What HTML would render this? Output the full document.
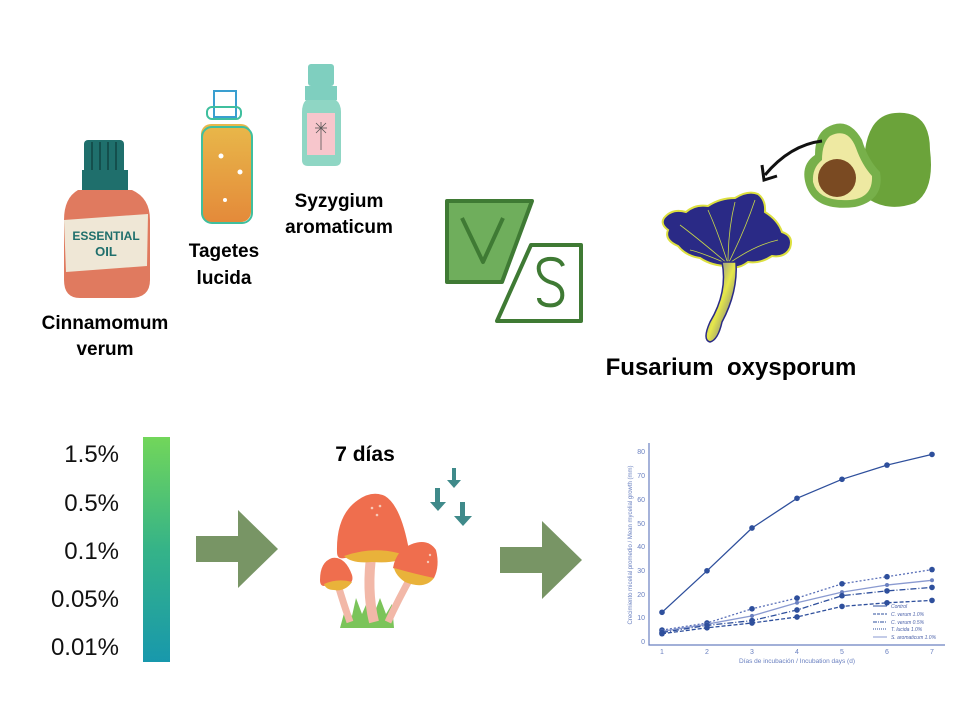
<!DOCTYPE html>
<html><head><meta charset="utf-8"><style>
html,body{margin:0;padding:0;background:#fff;}
svg{display:block}
text{font-family:"Liberation Sans",Arial,sans-serif;}
</style></head><body>
<svg width="960" height="720" viewBox="0 0 960 720" xmlns="http://www.w3.org/2000/svg">
<defs>
<linearGradient id="bar" x1="0" y1="0" x2="0" y2="1"><stop offset="0" stop-color="#72d65a"/><stop offset="0.5" stop-color="#35b388"/><stop offset="1" stop-color="#1898ac"/></linearGradient>
<linearGradient id="gold" x1="0" y1="0" x2="0" y2="1"><stop offset="0" stop-color="#e8b84a"/><stop offset="1" stop-color="#e48a3a"/></linearGradient>
<linearGradient id="stem" x1="0" y1="0" x2="1" y2="1"><stop offset="0" stop-color="#5050c8"/><stop offset="0.5" stop-color="#e6e84a"/><stop offset="1" stop-color="#3a3aa8"/></linearGradient>
<marker id="m" viewBox="-3 -3 6 6" markerWidth="5" markerHeight="5" refX="0" refY="0"><circle r="2.6" fill="#2e4f9c"/></marker>
<marker id="m2" viewBox="-3 -3 6 6" markerWidth="4" markerHeight="4" refX="0" refY="0"><circle r="2.3" fill="#6a80c0"/></marker>
</defs>

<!-- Cinnamomum bottle -->
<rect x="84" y="140" width="40" height="34" rx="4" fill="#1f6f6c"/>
<g stroke="#144f4d" stroke-width="2"><line x1="92" y1="142" x2="92" y2="170"/><line x1="100" y1="142" x2="100" y2="170"/><line x1="108" y1="142" x2="108" y2="170"/><line x1="116" y1="142" x2="116" y2="170"/></g>
<rect x="82" y="170" width="46" height="20" fill="#1f6f6c"/>
<path d="M78 190 H132 Q150 198 150 220 V280 Q150 298 130 298 H80 Q64 298 64 280 V220 Q64 198 78 190Z" fill="#e07a5f"/>
<path d="M64 220 L148 214 L147 266 L66 272Z" fill="#efe7d6"/>
<text x="106" y="240" font-size="12" fill="#1f6f6c" text-anchor="middle" font-weight="bold">ESSENTIAL</text>
<text x="106" y="256" font-size="13" fill="#1f6f6c" text-anchor="middle" font-weight="bold">OIL</text>
<text x="105" y="329" font-size="19" font-weight="bold" text-anchor="middle">Cinnamomum</text>
<text x="105" y="355" font-size="19" font-weight="bold" text-anchor="middle">verum</text>

<!-- Tagetes bottle -->
<rect x="214" y="91" width="22" height="26" fill="none" stroke="#3a9fd0" stroke-width="2"/>
<rect x="207" y="107" width="34" height="12" rx="5" fill="none" stroke="#3fbf9e" stroke-width="2"/>
<rect x="201" y="124" width="50" height="98" rx="10" fill="url(#gold)"/>
<rect x="202" y="127" width="50" height="96" rx="10" fill="none" stroke="#3fbf9e" stroke-width="2"/>
<circle cx="221" cy="156" r="2.5" fill="#fff"/><circle cx="240" cy="172" r="2.5" fill="#fff"/><circle cx="225" cy="200" r="2" fill="#fff"/>
<text x="224" y="257" font-size="19" font-weight="bold" text-anchor="middle">Tagetes</text>
<text x="224" y="284" font-size="19" font-weight="bold" text-anchor="middle">lucida</text>

<!-- Syzygium bottle -->
<rect x="308" y="64" width="26" height="22" rx="3" fill="#7fcfbf"/>
<rect x="305" y="86" width="32" height="14" fill="#7fcfbf"/>
<path d="M306 100 H336 Q341 104 341 112 V160 Q341 166 335 166 H308 Q302 166 302 160 V112 Q302 104 306 100Z" fill="#8fd6c4"/>
<rect x="307" y="113" width="28" height="42" fill="#f7c6cc"/>
<g stroke="#555" stroke-width="0.8"><line x1="321" y1="122" x2="321" y2="150"/><line x1="315" y1="128" x2="327" y2="128"/><line x1="316" y1="123" x2="326" y2="133"/><line x1="326" y1="123" x2="316" y2="133"/></g>
<text x="339" y="207" font-size="19" font-weight="bold" text-anchor="middle">Syzygium</text>
<text x="339" y="233" font-size="19" font-weight="bold" text-anchor="middle">aromaticum</text>

<!-- VS -->
<path d="M447 201 H532 L502 282 H447Z" fill="#6fae5c" stroke="#3f7a34" stroke-width="4" stroke-linejoin="round"/>
<path d="M462 218 L483 262 L503 218" fill="none" stroke="#3f7a34" stroke-width="4" stroke-linejoin="round"/>
<path d="M531 245 H581 V321 H497Z" fill="#fff" stroke="#3f7a34" stroke-width="4" stroke-linejoin="round"/>
<path d="M563 266 Q560 258 548 259 Q537 261 539 271 Q541 280 553 283 Q564 287 562 298 Q559 307 546 305 Q539 303 539 298" fill="none" stroke="#3f7a34" stroke-width="4"/>

<!-- Fungus -->
<path d="M664 218 Q672 208 686 212 Q695 204 708 206 Q720 198 735 198 Q748 190 758 194 Q766 200 765 212 Q778 220 782 232 Q794 236 790 248 Q785 258 772 256 Q760 264 748 262 Q738 270 728 266 Q712 266 700 258 Q686 256 678 246 Q664 240 668 230 Q660 224 664 218Z" fill="#2a2a86" stroke="#dde040" stroke-width="2"/>
<g stroke="#c8d84a" stroke-width="0.8" fill="none"><path d="M728 264 Q700 240 680 225"/><path d="M728 264 Q718 232 708 210"/><path d="M728 264 Q728 230 735 202"/><path d="M728 264 Q745 230 755 200"/><path d="M728 264 Q755 245 778 240"/><path d="M728 264 Q700 252 690 250"/></g>
<path d="M722 262 Q728 292 710 322 Q702 340 710 342 Q718 340 722 322 Q738 292 736 262Z" fill="url(#stem)" stroke="#2a2a86" stroke-width="1.5"/>
<text x="731" y="375" font-size="24" font-weight="bold" text-anchor="middle">Fusarium&#160; oxysporum</text>

<!-- Avocado -->
<path d="M895 113 Q930 110 930 150 Q935 190 915 203 Q890 212 870 200 Q855 180 865 150 Q870 115 895 113Z" fill="#6ba33a"/>
<path d="M826 128 Q848 115 862 140 Q868 160 880 172 Q885 200 855 207 Q815 212 806 185 Q800 165 815 155 Q815 135 826 128Z" fill="#77b04a"/>
<path d="M830 136 Q848 127 856 148 Q862 165 872 176 Q873 198 850 200 Q818 202 813 182 Q812 168 822 160 Q822 143 830 136Z" fill="#eee9a2"/>
<circle cx="837" cy="178" r="19" fill="#7a4a22"/>
<path d="M822 141 Q790 145 765 175" fill="none" stroke="#111" stroke-width="3"/>
<path d="M762 165 L764 180 L777 176" fill="none" stroke="#111" stroke-width="3"/>

<!-- Concentration bar -->
<rect x="143" y="437" width="27" height="225" fill="url(#bar)"/>
<g font-size="24" fill="#111" text-anchor="end">
<text x="119" y="462">1.5%</text><text x="119" y="511">0.5%</text><text x="119" y="559">0.1%</text><text x="119" y="607">0.05%</text><text x="119" y="655">0.01%</text>
</g>

<!-- Arrows -->
<path d="M196 536 H238 V510 L278 549 L238 588 V562 H196Z" fill="#789565"/>
<path d="M500 547 H542 V521 L582 560 L542 599 V573 H500Z" fill="#789565"/>

<!-- 7 dias -->
<text x="365" y="461" font-size="21" font-weight="bold" text-anchor="middle">7 días</text>
<g fill="#3f8a8a">
<path d="M452 468 h4 v12 h5 l-7 8 l-7 -8 h5z"/>
<path d="M435 488 h5 v14 h6 l-8 9 l-8 -9 h5z"/>
<path d="M460 502 h5 v14 h7 l-9 10 l-9 -10 h6z"/>
</g>
<!-- mushrooms -->
<path d="M340 628 L346 606 L352 616 L356 598 L362 614 L368 600 L374 614 L380 598 L386 614 L392 604 L394 628Z" fill="#7bc45a"/>
<path d="M338 585 Q344 605 350 622" stroke="#f2b8a8" stroke-width="7" fill="none"/>
<path d="M372 550 Q366 590 374 622" stroke="#f2b8a8" stroke-width="10" fill="none"/>
<path d="M412 575 Q398 600 388 622" stroke="#f2b8a8" stroke-width="7" fill="none"/>
<path d="M337 552 Q336 515 358 500 Q372 490 385 496 Q400 505 408 545 Q410 556 400 556 Q370 552 345 558 Q337 560 337 552Z" fill="#ef6e4e"/>
<path d="M344 556 Q375 545 405 555 Q400 564 372 562 Q352 564 344 556Z" fill="#e9b23a"/>
<path d="M320 580 Q320 562 332 558 Q345 556 352 575 Q354 582 348 584 Q335 582 324 586 Q320 586 320 580Z" fill="#ef6e4e"/>
<path d="M324 584 Q338 578 352 582 Q345 592 334 590 Q326 590 324 584Z" fill="#e9b23a"/>
<path d="M393 568 Q396 550 412 544 Q428 538 436 550 Q440 566 434 578 Q415 578 393 568Z" fill="#ef6e4e"/>
<path d="M394 568 Q415 574 434 578 Q425 590 405 582 Q396 576 394 568Z" fill="#e9b23a"/>
<g fill="#f6c9b8"><circle cx="372" cy="508" r="1.3"/><circle cx="380" cy="506" r="1.3"/><circle cx="377" cy="515" r="1.3"/><circle cx="430" cy="555" r="1.2"/><circle cx="428" cy="562" r="1.2"/></g>

<!-- Chart -->
<g stroke="#6a80c0" stroke-width="1.2" fill="none"><path d="M649 443 V645 H945"/></g>
<g font-size="7" fill="#6a80c0" text-anchor="end">
<text x="645" y="644">0</text><text x="645" y="620">10</text><text x="645" y="597">20</text><text x="645" y="573">30</text><text x="645" y="549">40</text><text x="645" y="526">50</text><text x="645" y="502">60</text><text x="645" y="478">70</text><text x="645" y="454">80</text>
</g>
<g font-size="7" fill="#6a80c0" text-anchor="middle">
<text x="662" y="654">1</text><text x="707" y="654">2</text><text x="752" y="654">3</text><text x="797" y="654">4</text><text x="842" y="654">5</text><text x="887" y="654">6</text><text x="932" y="654">7</text>
<text x="797" y="663" font-size="6.5">Días de incubación / Incubation days (d)</text>
<text transform="translate(632,545) rotate(-90)" font-size="6">Crecimiento micelial promedio / Mean mycelial growth (mm)</text>
</g>
<g fill="none" stroke="#2e4f9c" stroke-width="1.3">
<polyline marker-start="url(#m)" marker-mid="url(#m)" marker-end="url(#m)" points="662,612.3 707,570.8 752,528 797,498.3 842,479.3 887,465.1 932,454.4"/>
<polyline stroke="#5a70b8" stroke-dasharray="2,2" marker-start="url(#m)" marker-mid="url(#m)" marker-end="url(#m)" points="662,630.1 707,623 752,608.8 797,598.1 842,583.8 887,576.7 932,569.6"/>
<polyline stroke="#8a9ad0" marker-start="url(#m2)" marker-mid="url(#m2)" marker-end="url(#m2)" points="662,631.3 707,624.2 752,615.9 797,602.8 842,592.1 887,585 932,580.3"/>
<polyline stroke-dasharray="6,2,1,2" marker-start="url(#m)" marker-mid="url(#m)" marker-end="url(#m)" points="662,632.5 707,625.4 752,620.6 797,610 842,595.7 887,590.9 932,587.4"/>
<polyline stroke-dasharray="4,2" marker-start="url(#m)" marker-mid="url(#m)" marker-end="url(#m)" points="662,633.7 707,627.8 752,623 797,617 842,606.4 887,602.8 932,600.4"/>
</g>
<g font-size="5" fill="#4a60a8" font-style="italic">
<line x1="873" y1="606" x2="887" y2="606" stroke="#2e4f9c"/><text x="891" y="608">Control</text>
<line x1="873" y1="614" x2="887" y2="614" stroke="#2e4f9c" stroke-dasharray="3,1"/><text x="891" y="616">C. verum 1.0%</text>
<line x1="873" y1="622" x2="887" y2="622" stroke="#2e4f9c" stroke-dasharray="4,1,1,1"/><text x="891" y="624">C. verum 0.5%</text>
<line x1="873" y1="629" x2="887" y2="629" stroke="#2e4f9c" stroke-dasharray="1,1"/><text x="891" y="631">T. lucida 1.0%</text>
<line x1="873" y1="637" x2="887" y2="637" stroke="#8a9ad0"/><text x="891" y="639">S. aromaticum 1.0%</text>
</g>
</svg>
</body></html>
